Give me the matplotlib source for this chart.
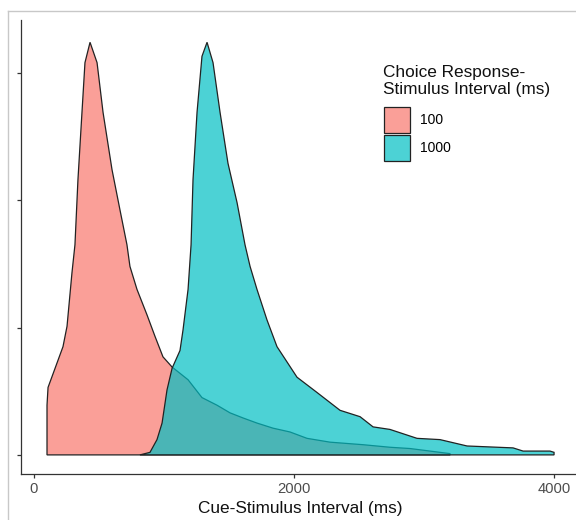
import matplotlib

matplotlib.use("Agg")
import matplotlib.pyplot as plt
from matplotlib.lines import Line2D

# density curves (x in ms, y in density x 1e-3)
RSI100_X = [100, 100, 108, 162, 223, 254, 292, 315, 338, 369, 392, 431, 485, 531,
            600, 662, 715, 738, 792, 869, 931, 992, 1062, 1185, 1292, 1408, 1508,
            1608, 1715, 1838, 1969, 2100, 2277, 2531, 2738, 2892, 3046, 3200, 3200]
RSI100_Y = [0, 0.39, 0.53, 0.68, 0.85, 1.01, 1.43, 1.65, 2.16, 2.69, 3.08, 3.24, 3.08,
            2.69, 2.24, 1.92, 1.65, 1.48, 1.30, 1.10, 0.93, 0.77, 0.69, 0.59, 0.45,
            0.39, 0.33, 0.29, 0.25, 0.21, 0.18, 0.13, 0.10, 0.08, 0.06, 0.05, 0.03,
            0.01, 0]

RSI1000_X = [815, 892, 946, 985, 1023, 1062, 1123, 1146, 1185, 1208, 1223, 1254, 1292,
             1331, 1377, 1431, 1492, 1562, 1623, 1662, 1715, 1792, 1869, 2023, 2177,
             2354, 2508, 2608, 2738, 2946, 3123, 3331, 3685, 3762, 3969, 4000, 4000]
RSI1000_Y = [0, 0.02, 0.12, 0.25, 0.51, 0.68, 0.82, 0.98, 1.30, 1.65, 2.16, 2.69, 3.13,
             3.24, 3.08, 2.69, 2.29, 1.98, 1.65, 1.48, 1.30, 1.06, 0.85, 0.61, 0.49,
             0.35, 0.30, 0.22, 0.20, 0.13, 0.12, 0.07, 0.055, 0.03, 0.03, 0.02, 0]

GROUPS = ["100", "1000"]
X_TICKS = [0, 2000, 4000]
Y_TICKS = [0, 1, 2, 3]

RED = (248 / 255, 118 / 255, 109 / 255, 0.7)
CYAN = (0, 191 / 255, 196 / 255, 0.7)

plt.rcParams["font.family"] = ["Liberation Sans", "DejaVu Sans"]

W, H = 576, 520
fig = plt.figure(figsize=(W / 100, H / 100), dpi=100)

# axes placed in pixel terms: x from 21 to ~579, y from 20 to 474 (from top)
left, right, top, bottom = 21, 579.4, 20, 474
ax = fig.add_axes([left / W, 1 - bottom / H, (right - left) / W, (bottom - top) / H])

p1 = ax.fill(RSI100_X, RSI100_Y, facecolor=RED, edgecolor="#222222",
             linewidth=0.9, label=GROUPS[0])[0]
p2 = ax.fill(RSI1000_X, RSI1000_Y, facecolor=CYAN, edgecolor="#222222",
             linewidth=0.9, label=GROUPS[1])[0]

ax.set_xlim(-100, 4195)
ax.set_ylim(-0.15, 3.415)
ax.set_xticks(X_TICKS)
ax.set_xticklabels([str(t) for t in X_TICKS])
ax.set_yticks(Y_TICKS)
ax.set_yticklabels([])

for side in ("top", "right"):
    ax.spines[side].set_visible(False)
for side in ("left", "bottom"):
    ax.spines[side].set_color("#333333")
    ax.spines[side].set_linewidth(0.9)
ax.tick_params(axis="both", length=3.2, width=0.9, color="#333333",
               labelsize=10.6, labelcolor="#4D4D4D", pad=2.5)

ax.set_xlabel("Cue-Stimulus Interval (ms)", fontsize=12.4, color="#111111")
ax.xaxis.set_label_coords(0.5, -34 / (bottom - top))
ax.xaxis.label.set_va("center")

# legend: title as its own text so the gap to the keys can match
fig.text(383 / W, 1 - 65 / H, "Choice Response-\nStimulus Interval (ms)",
         ha="left", va="top", fontsize=12.4, color="#111111", linespacing=1.2)
ax.legend(handles=[p1, p2], loc="upper left", bbox_to_anchor=(384 / W, 1 - 107 / H),
          bbox_transform=fig.transFigure, frameon=False, fontsize=10,
          borderpad=0, borderaxespad=0, handlelength=1.9, handleheight=2.5,
          handletextpad=0.7, labelspacing=0.12)

# light gray screenshot frame
frame = "#C8C8C8"
fig.add_artist(Line2D([8 / W, 8 / W], [0, 1 - 11 / H], transform=fig.transFigure,
                      color=frame, linewidth=1))
fig.add_artist(Line2D([8 / W, 1], [1 - 11 / H, 1 - 11 / H], transform=fig.transFigure,
                      color=frame, linewidth=1))

fig.savefig("out.png", dpi=100)
